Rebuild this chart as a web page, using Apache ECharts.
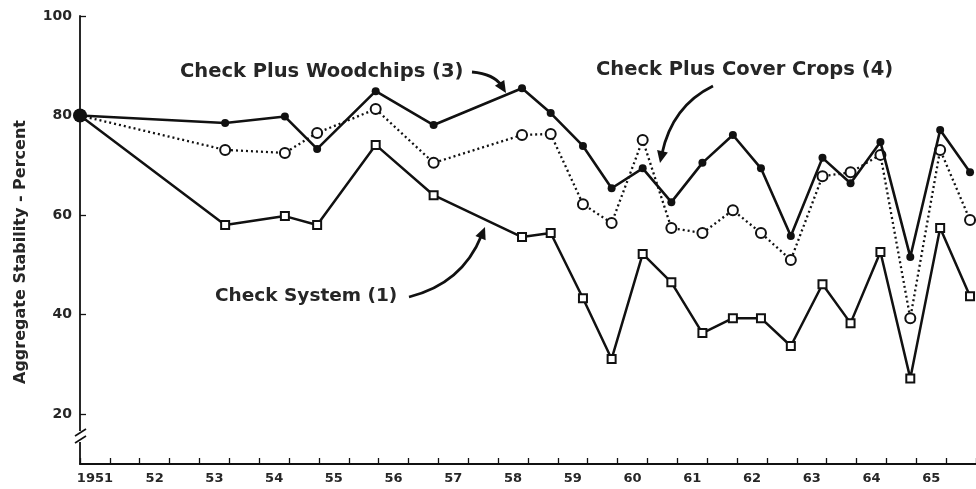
<!DOCTYPE html>
<html>
<head>
<meta charset="utf-8">
<script src="https://cdn.jsdelivr.net/npm/echarts@6/dist/echarts.min.js"></script>
<style>
  html, body { margin: 0; padding: 0; background: #fff; }
  #LineChart { width: 976px; height: 489px; }
</style>
</head>
<body>
<div id="LineChart"></div>
<script>
// sample dates (spring / fall)
const sampleYears = [1951.0, 1953.43, 1954.43, 1954.97, 1955.95, 1956.92, 1958.4, 1958.88, 1959.42, 1959.9,
  1960.42, 1960.9, 1961.42, 1961.93, 1962.4, 1962.9, 1963.43, 1963.9, 1964.4, 1964.9, 1965.4, 1965.9]
const checkSystem = [80, 58.0, 59.8, 58.0, 74.1, 64.0, 55.6, 56.4, 43.3, 31.1,
  52.2, 46.5, 36.3, 39.3, 39.3, 33.7, 46.1, 38.3, 52.6, 27.2, 57.4, 43.7]
const woodchips = [80, 78.5, 79.8, 73.3, 84.9, 78.1, 85.5, 80.5, 73.9, 65.4,
  69.4, 62.6, 70.5, 76.1, 69.4, 55.8, 71.5, 66.4, 74.7, 51.6, 77.1, 68.6]
const coverCrops = [80, 73.1, 72.5, 76.5, 81.3, 70.5, 76.1, 76.3, 62.2, 58.4,
  75.1, 57.4, 56.4, 61.0, 56.4, 51.0, 67.8, 68.6, 72.1, 39.3, 73.1, 59.0]
const yearLabels = ['1951', '52', '53', '54', '55', '56', '57', '58', '59', '60', '61', '62', '63', '64', '65']
const yTicks = [20, 40, 60, 80, 100]

const ink = '#111'

function pairs(vals) {
  return vals.map((v, i) => [sampleYears[i], v])
}

// curved pointer with a filled head
function arrow(x1, y1, cx, cy, x2, y2) {
  let dx = x2 - cx, dy = y2 - cy
  let len = Math.sqrt(dx * dx + dy * dy)
  dx /= len
  dy /= len
  let bx = x2 - dx * 12, by = y2 - dy * 12
  return [
    {
      type: 'bezierCurve',
      shape: { x1: x1, y1: y1, cpx1: cx, cpy1: cy, x2: bx + dx * 3, y2: by + dy * 3 },
      style: { stroke: ink, lineWidth: 2.8, fill: null },
    },
    {
      type: 'polygon',
      shape: { points: [[x2, y2], [bx - dy * 5.5, by + dx * 5.5], [bx + dy * 5.5, by - dx * 5.5]] },
      style: { fill: ink },
    },
  ]
}

function note(text, x, y, size) {
  return {
    type: 'text',
    x: x,
    y: y,
    style: {
      text: text,
      fill: '#262626',
      fontSize: size || 19.5,
      fontWeight: 'bold',
      fontFamily: 'DejaVu Sans',
      verticalAlign: 'middle',
    },
  }
}

let xTickValues = []
for (let i = 0; i <= 30; i++) xTickValues.push(1951 + i * 0.5)
let xLabelValues = yearLabels.map((l, i) => 1951.25 + i)

let chartInstance = echarts.init(document.getElementById('LineChart'))
let option = {
  animation: false,
  backgroundColor: '#fff',
  grid: {
    left: 80,
    right: -6,
    top: 16,
    bottom: 25,
  },
  xAxis: {
    type: 'value',
    min: 1951,
    max: 1966,
    axisLine: { lineStyle: { color: ink, width: 1.8 } },
    axisTick: {
      inside: true,
      length: 6,
      customValues: xTickValues,
      lineStyle: { color: ink, width: 1.3 },
    },
    axisLabel: {
      customValues: xLabelValues,
      formatter: (v) => yearLabels[Math.round(v - 1951.25)],
      color: '#262626',
      fontSize: 13,
      fontWeight: 'bold',
      fontFamily: 'DejaVu Sans',
      margin: 8,
    },
    splitLine: { show: false },
  },
  yAxis: {
    type: 'value',
    min: 10,
    max: 100,
    axisLine: { show: true, lineStyle: { color: ink, width: 1.8 } },
    axisTick: {
      show: true,
      inside: true,
      length: 6,
      customValues: yTicks,
      lineStyle: { color: ink, width: 1.3 },
    },
    axisLabel: {
      customValues: yTicks,
      color: '#262626',
      fontSize: 14,
      fontWeight: 'bold',
      fontFamily: 'DejaVu Sans',
      margin: 8,
    },
    splitLine: { show: false },
  },
  series: [
    {
      name: 'Check System (1)',
      type: 'line',
      data: pairs(checkSystem),
      symbol: 'emptyRect',
      symbolSize: 8,
      lineStyle: { color: ink, width: 2.5 },
      itemStyle: { color: ink, borderWidth: 1.4 },
      z: 2,
    },
    {
      name: 'Check Plus Cover Crops (4)',
      type: 'line',
      data: pairs(coverCrops),
      symbol: 'emptyCircle',
      symbolSize: 10,
      lineStyle: { color: ink, width: 2.3, type: [2, 3] },
      itemStyle: { color: ink, borderWidth: 1.4 },
      z: 3,
    },
    {
      name: 'Check Plus Woodchips (3)',
      type: 'line',
      data: pairs(woodchips).map((p, i) => (i === 0 ? { value: p, symbolSize: 14 } : p)),
      symbol: 'circle',
      symbolSize: 8,
      lineStyle: { color: ink, width: 2.6 },
      itemStyle: { color: ink },
      z: 4,
    },
  ],
  graphic: [
    {
      type: 'text',
      x: 21,
      y: 252,
      rotation: Math.PI / 2,
      style: {
        text: 'Aggregate Stability - Percent',
        fill: '#262626',
        fontSize: 16,
        fontWeight: 'bold',
        fontFamily: 'DejaVu Sans',
        align: 'center',
        verticalAlign: 'middle',
      },
    },
    // axis break
    { type: 'rect', shape: { x: 75, y: 431, width: 10, height: 11 }, style: { fill: '#fff' }, z: 100 },
    { type: 'line', shape: { x1: 75, y1: 436, x2: 86, y2: 429 }, style: { stroke: ink, lineWidth: 1.6 }, z: 101 },
    { type: 'line', shape: { x1: 75, y1: 443, x2: 86, y2: 436 }, style: { stroke: ink, lineWidth: 1.6 }, z: 101 },
    note('Check Plus Woodchips (3)', 180, 72),
    note('Check Plus Cover Crops (4)', 596, 70),
    note('Check System (1)', 215, 296, 18.5),
    ...arrow(472, 72, 494, 74, 506, 93),
    ...arrow(713, 86, 672, 106, 660, 163),
    ...arrow(409, 297, 462, 284, 485, 227),
  ],
}
chartInstance.setOption(option)
window.addEventListener('resize', () => chartInstance.resize())
</script>
</body>
</html>
